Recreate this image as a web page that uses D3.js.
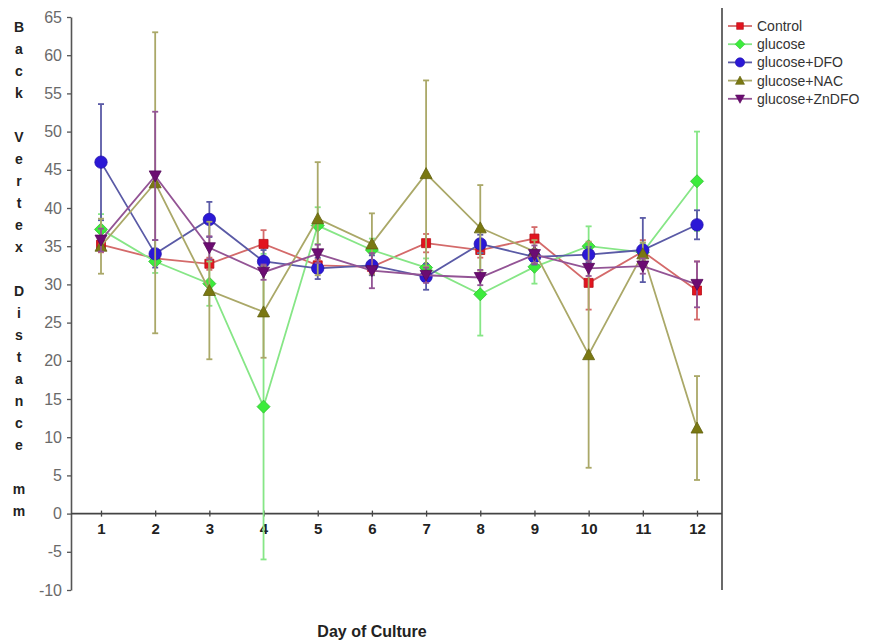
<!DOCTYPE html>
<html lang="en">
<head>
    <meta charset="UTF-8">
    <title>Back Vertex Distance by Day of Culture</title>
    <script src="https://d3js.org/d3.v7.min.js"></script>
    <style>
        body {
            margin: 0;
            background-color: #ffffff;
            font-family: "Liberation Sans", Arial, sans-serif;
        }
        svg {
            display: block;
        }
    </style>
</head>
<body>
    <div id="chart"></div>

    <script>
        // chart data
        const days = [1, 2, 3, 4, 5, 6, 7, 8, 9, 10, 11, 12];
        const seriesNames = ["Control", "glucose", "glucose+DFO", "glucose+NAC", "glucose+ZnDFO"];

        const controlMean = [35.2, 33.4, 32.7, 35.3, 32.5, 32.3, 35.4, 34.5, 36.0, 30.2, 34.3, 29.2];
        const controlErr  = [1.0, 0.6, 0.8, 1.8, 0.8, 0.8, 1.2, 1.0, 1.5, 3.5, 1.5, 3.8];
        const glucoseMean = [37.2, 33.0, 30.1, 14.0, 37.7, 34.5, 32.2, 28.7, 32.3, 35.0, 34.2, 43.5];
        const glucoseErr  = [2.0, 1.5, 2.9, 20.0, 2.4, 1.5, 1.2, 5.4, 2.2, 2.6, 1.2, 6.5];
        const dfoMean     = [46.0, 34.0, 38.5, 33.0, 32.1, 32.5, 31.0, 35.3, 33.6, 33.9, 34.5, 37.8];
        const dfoErr      = [7.6, 1.8, 2.3, 1.5, 1.4, 1.3, 1.7, 1.2, 1.0, 1.0, 4.2, 1.9];
        const nacMean     = [35.0, 43.3, 29.2, 26.4, 38.6, 35.3, 44.5, 37.4, 34.3, 20.8, 34.0, 11.2];
        const nacErr      = [3.6, 19.7, 9.0, 6.0, 7.4, 4.0, 12.2, 5.6, 1.5, 14.8, 1.5, 6.8];
        const zndfoMean   = [35.8, 44.2, 34.8, 31.6, 34.0, 31.8, 31.2, 30.9, 33.9, 32.1, 32.4, 30.0];
        const zndfoErr    = [1.5, 8.4, 1.5, 1.0, 1.2, 2.3, 1.0, 1.0, 1.2, 1.0, 1.0, 3.0];

        const yTicks = [-10, -5, 0, 5, 10, 15, 20, 25, 30, 35, 40, 45, 50, 55, 60, 65];

        // y title is written one letter per row, a blank row between words
        const yTitleLetters = ["B","a","c","k","","V","e","r","t","e","x","","D","i","s","t","a","n","c","e","","m","m"];

        const width = 893;
        const height = 640;

        const svg = d3.select("#chart")
            .append("svg")
            .attr("width", width)
            .attr("height", height);

        const x = d3.scaleLinear().domain([1, 12]).range([101, 697]);
        const y = d3.scaleLinear().domain([-10, 65]).range([590, 17]);

        const styles = [
            { marker: "square",   fill: "#e2141f", line: "#d46a6a" },
            { marker: "diamond",  fill: "#3cec3c", line: "#86e686" },
            { marker: "circle",   fill: "#2b18d6", line: "#5a5aa6" },
            { marker: "triangle", fill: "#7a7812", line: "#aaa868" },
            { marker: "down",     fill: "#6c0c72", line: "#935495" }
        ];

        const series = [
            { name: seriesNames[0], mean: controlMean, err: controlErr },
            { name: seriesNames[1], mean: glucoseMean, err: glucoseErr },
            { name: seriesNames[2], mean: dfoMean,     err: dfoErr },
            { name: seriesNames[3], mean: nacMean,     err: nacErr },
            { name: seriesNames[4], mean: zndfoMean,   err: zndfoErr }
        ].map((s, i) => Object.assign(s, styles[i], {
            points: days.map((d, j) => ({ day: d, v: s.mean[j], e: s.err[j] }))
        }));

        // marker shapes
        function markerPath(kind) {
            if (kind === "square") return "M-4.5,-4.5H4.5V4.5H-4.5Z";
            if (kind === "diamond") return "M0,-6.5L6.5,0L0,6.5L-6.5,0Z";
            if (kind === "circle") return d3.symbol(d3.symbolCircle, 120)();
            if (kind === "triangle") return "M0,-6L6,5H-6Z";
            return "M-6,-5H6L0,6Z";
        }

        // y axis
        const yAxis = svg.append("g")
            .attr("transform", "translate(71,0)")
            .call(d3.axisLeft(y).tickValues(yTicks).tickSize(4).tickSizeOuter(0).tickFormat(d => String(d)));
        yAxis.select(".domain").attr("stroke", "#555").attr("stroke-width", 1.6);
        yAxis.selectAll(".tick line").attr("stroke", "#555").attr("stroke-width", 1.3);
        yAxis.selectAll(".tick text")
            .attr("x", -9)
            .attr("fill", "#6a6a6a")
            .style("font-size", "16px")
            .style("font-family", "'Liberation Sans', Arial, sans-serif");

        // x axis sits on y = 0
        const xAxis = svg.append("g")
            .attr("transform", `translate(0,${y(0)})`)
            .call(d3.axisBottom(x).tickValues(days).tickSize(3).tickSizeOuter(0).tickFormat(d => String(d)));
        xAxis.select(".domain").attr("d", `M71,0H722`).attr("stroke", "#444").attr("stroke-width", 1.6);
        xAxis.selectAll(".tick line").attr("y1", -3).attr("y2", 3).attr("stroke", "#444").attr("stroke-width", 1.3);
        xAxis.selectAll(".tick text")
            .attr("y", 10)
            .attr("fill", "#222")
            .style("font-size", "15px")
            .style("font-weight", "bold")
            .style("font-family", "'Liberation Sans', Arial, sans-serif");

        // right border next to the legend
        svg.append("line")
            .attr("x1", 722).attr("x2", 722)
            .attr("y1", 8).attr("y2", 590)
            .attr("stroke", "#444").attr("stroke-width", 1.6);

        // y title letters
        svg.append("g")
            .selectAll("text")
            .data(yTitleLetters)
            .enter()
            .append("text")
            .attr("x", 19)
            .attr("y", (d, i) => 32 + i * 22)
            .attr("text-anchor", "middle")
            .attr("fill", "#222")
            .style("font-size", "14px")
            .style("font-weight", "bold")
            .text(d => d);

        // x title
        svg.append("text")
            .attr("x", 372)
            .attr("y", 637)
            .attr("text-anchor", "middle")
            .attr("fill", "#222")
            .style("font-size", "16px")
            .style("font-weight", "bold")
            .text("Day of Culture");

        const line = d3.line().x(d => x(d.day)).y(d => y(d.v));

        const groups = svg.append("g")
            .selectAll("g")
            .data(series)
            .enter()
            .append("g");

        // error bars
        groups.each(function (s) {
            const g = d3.select(this);
            g.selectAll("line.bar")
                .data(s.points)
                .enter()
                .append("line")
                .attr("x1", d => x(d.day)).attr("x2", d => x(d.day))
                .attr("y1", d => y(d.v + d.e)).attr("y2", d => y(d.v - d.e))
                .attr("stroke", s.line).attr("stroke-width", 1.8);
            [1, -1].forEach(sign => {
                g.selectAll(null)
                    .data(s.points)
                    .enter()
                    .append("line")
                    .attr("x1", d => x(d.day) - 3).attr("x2", d => x(d.day) + 3)
                    .attr("y1", d => y(d.v + sign * d.e)).attr("y2", d => y(d.v + sign * d.e))
                    .attr("stroke", s.line).attr("stroke-width", 1.8);
            });
        });

        // lines
        groups.append("path")
            .attr("d", s => line(s.points))
            .attr("fill", "none")
            .attr("stroke", s => s.line)
            .attr("stroke-width", 1.8);

        // markers
        groups.each(function (s) {
            d3.select(this).selectAll("path.pt")
                .data(s.points)
                .enter()
                .append("path")
                .attr("class", "pt")
                .attr("transform", d => `translate(${x(d.day)},${y(d.v)})`)
                .attr("d", markerPath(s.marker))
                .attr("fill", s.fill)
                .attr("stroke", d3.color(s.fill).darker(0.6))
                .attr("stroke-width", 0.8);
        });

        // legend
        const legend = svg.append("g")
            .selectAll("g")
            .data(series)
            .enter()
            .append("g")
            .attr("transform", (d, i) => `translate(0,${26 + i * 18.2})`);

        legend.append("line")
            .attr("x1", 728).attr("x2", 752)
            .attr("stroke", d => d.line).attr("stroke-width", 1.8);

        legend.append("path")
            .attr("transform", "translate(740,0) scale(0.75)")
            .attr("d", d => markerPath(d.marker))
            .attr("fill", d => d.fill)
            .attr("stroke", d => d3.color(d.fill).darker(0.6))
            .attr("stroke-width", 0.8);

        legend.append("text")
            .attr("x", 757)
            .attr("y", 5)
            .attr("fill", "#333")
            .style("font-size", "14px")
            .text(d => d.name);
    </script>
</body>
</html>
